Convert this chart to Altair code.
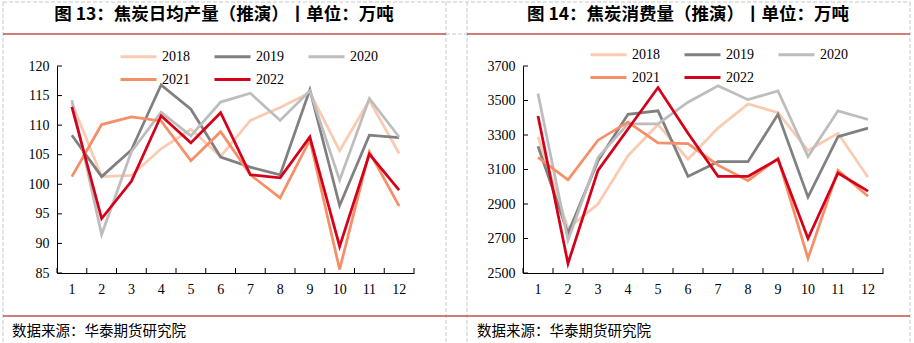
import altair as alt
import pandas as pd

# ---------------- data ----------------
months = list(range(1, 13))
years = ["2018", "2019", "2020", "2021", "2022"]

prod_2018 = [113.8, 101.3, 101.5, 106.0, 109.3, 104.7, 110.8, 113.0, 115.5, 105.7, 114.2, 105.2]
prod_2019 = [108.3, 101.3, 105.8, 116.8, 112.7, 104.6, 102.9, 101.6, 116.0, 96.4, 108.3, 107.9]
prod_2020 = [114.2, 91.5, 105.5, 112.2, 108.2, 113.9, 115.4, 110.8, 115.8, 100.7, 114.5, 108.0]
prod_2021 = [101.3, 110.1, 111.4, 110.7, 104.0, 108.9, 101.6, 97.7, 107.5, 85.6, 105.5, 96.3]
prod_2022 = [113.1, 94.2, 100.5, 111.6, 107.0, 112.1, 101.6, 101.1, 108.0, 89.5, 105.1, 99.0]

cons_2018 = [3290, 2760, 2900, 3180, 3360, 3160, 3340, 3480, 3430, 3210, 3310, 3055]
cons_2019 = [3235, 2730, 3150, 3420, 3440, 3060, 3145, 3145, 3420, 2940, 3290, 3340]
cons_2020 = [3540, 2690, 3170, 3365, 3365, 3490, 3585, 3505, 3555, 3175, 3440, 3390]
cons_2021 = [3170, 3040, 3270, 3375, 3255, 3250, 3125, 3035, 3165, 2585, 3095, 2945]
cons_2022 = [3410, 2555, 3095, 3335, 3575, 3310, 3060, 3060, 3160, 2700, 3080, 2975]

prod_ticks = [85, 90, 95, 100, 105, 110, 115, 120]
cons_ticks = [2500, 2700, 2900, 3100, 3300, 3500, 3700]

title_left = "图 13：焦炭日均产量（推演）丨单位：万吨"
title_right = "图 14：焦炭消费量（推演）丨单位：万吨"
source_text = "数据来源：华泰期货研究院"

colors = ["#F9CBB1", "#808080", "#BDBDBD", "#F58F68", "#D5001A"]


def long_df(series):
    rows = []
    for y, vals in zip(years, series):
        for m, v in zip(months, vals):
            rows.append({"month": m, "year": y, "value": v})
    return pd.DataFrame(rows)


df_prod = long_df([prod_2018, prod_2019, prod_2020, prod_2021, prod_2022])
df_cons = long_df([cons_2018, cons_2019, cons_2020, cons_2021, cons_2022])

# ---------------- layout ----------------
X0, Y0 = 57, 66          # plot origin on the page
W, H = 826, 207
NUM_FONT = "Liberation Serif"
CJK_FONT = "Noto Sans CJK SC"


def panel(df, xrange, ydomain, yticks, y_offset, lx, ly):
    xs = alt.Scale(type="band", domain=months, range=xrange, paddingInner=0, paddingOuter=0)
    ys = alt.Scale(domain=ydomain, nice=False, zero=False)
    x_axis = alt.Axis(orient="bottom", ticks=False, domainColor="black", domainWidth=1,
                      labelFont=NUM_FONT, labelFontSize=14, labelColor="black",
                      labelPadding=9, labelAngle=0, title=None, grid=False)
    y_axis = alt.Axis(orient="left", offset=y_offset, values=yticks, ticks=False, format="d",
                      domainColor="black", domainWidth=1, labelFont=NUM_FONT,
                      labelFontSize=14, labelColor="black", labelPadding=8,
                      title=None, grid=False)
    legend = alt.Legend(orient="none", legendX=lx, legendY=ly, columns=3, direction="horizontal",
                        title=None, symbolType="M-2,0H2", symbolSize=324, symbolStrokeWidth=3,
                        labelFont=NUM_FONT, labelFontSize=14, labelColor="black",
                        labelOffset=13, columnPadding=18, rowPadding=5)
    lines = alt.Chart(df).mark_line(strokeWidth=2.75).encode(
        x=alt.X("month:O", scale=xs, axis=x_axis, bandPosition=0.5),
        y=alt.Y("value:Q", scale=ys, axis=y_axis),
        color=alt.Color("year:N", scale=alt.Scale(domain=years, range=colors), legend=legend),
    )
    ytick = alt.Chart(pd.DataFrame({"value": yticks})).mark_rule(color="black", strokeWidth=1).encode(
        y=alt.Y("value:Q", scale=ys, axis=y_axis),
        x=alt.value(xrange[0]), x2=alt.value(xrange[0] + 5),
    )
    xtick = alt.Chart(pd.DataFrame({"month": months})).mark_rule(color="black", strokeWidth=1).encode(
        x=alt.X("month:O", scale=xs, axis=x_axis, bandPosition=0),
        y=alt.value(H), y2=alt.value(H - 5),
    )
    xtick_end = alt.Chart(pd.DataFrame({"month": [months[-1]]})).mark_rule(color="black", strokeWidth=1).encode(
        x=alt.X("month:O", scale=xs, axis=x_axis, bandPosition=1),
        y=alt.value(H), y2=alt.value(H - 5),
    )
    return alt.layer(lines, ytick, xtick, xtick_end)


left = panel(df_prod, [0, 357], [85, 120], prod_ticks, 0, 71, -20)
right = panel(df_cons, [466, 826], [2500, 3700], cons_ticks, -466, 541, -22)

dummy = pd.DataFrame({"d": [0]})


def hline(x1, x2, y, color, dash=None, width=1):
    kw = dict(color=color, strokeWidth=width)
    if dash:
        kw["strokeDash"] = dash
    return alt.Chart(dummy).mark_rule(**kw).encode(
        x=alt.value(x1 - X0), x2=alt.value(x2 - X0), y=alt.value(y - Y0))


def vline(x, y1, y2, color, dash=None, width=1):
    kw = dict(color=color, strokeWidth=width)
    if dash:
        kw["strokeDash"] = dash
    return alt.Chart(dummy).mark_rule(**kw).encode(
        x=alt.value(x - X0), y=alt.value(y1 - Y0), y2=alt.value(y2 - Y0))


def text(t, x, y, size, weight="normal", align="left"):
    return alt.Chart(dummy).mark_text(font=CJK_FONT, fontSize=size, fontWeight=weight,
                                      align=align, baseline="middle", color="black").encode(
        x=alt.value(x - X0), y=alt.value(y - Y0), text=alt.value(t))


GRAY = "#C8C8C8"
RED = "#C0504D"
deco = alt.layer(
    hline(3, 910, 2, GRAY, [4, 2]),
    vline(3, 2, 343, GRAY, [4, 2]),
    vline(446, 2, 343, GRAY, [4, 2]),
    vline(467, 2, 343, GRAY, [4, 2]),
    vline(910, 2, 343, GRAY, [4, 2]),
    hline(446, 467, 34, GRAY, [4, 2]),
    hline(3, 446, 34, RED, width=1.5),
    hline(467, 910, 34, RED, width=1.5),
    hline(3, 910, 316, RED, width=1.5),
    text(title_left, 224, 15, 17.5, "bold", "center"),
    text(title_right, 688, 15, 17.5, "bold", "center"),
    text(source_text, 12, 332, 14.5),
    text(source_text, 477, 332, 14.5),
)

chart = alt.layer(deco, left, right).resolve_scale(
    x="independent", y="independent", color="independent"
).properties(
    width=W, height=H,
    padding={"left": X0, "top": Y0, "right": 914 - X0 - W, "bottom": 343 - Y0 - H},
    autosize=alt.AutoSizeParams(type="none"),
    background="white",
).configure_view(stroke=None)

chart.save("out.html", embed_options={"renderer": "svg", "actions": False})
